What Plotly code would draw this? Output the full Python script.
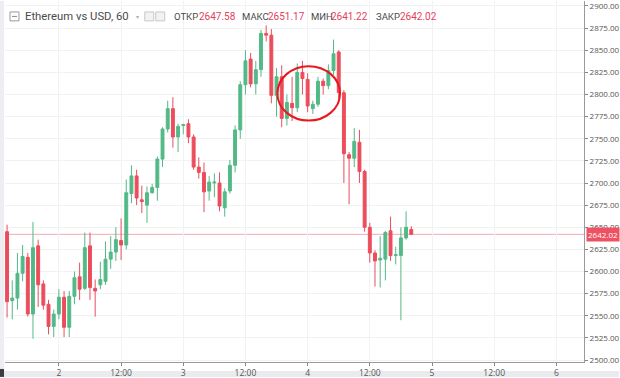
import pandas as pd
import plotly.graph_objects as go

# ---------------- data (hourly ETH/USD candles) ----------------
opens = [2645, 2567, 2570, 2598, 2616, 2552, 2629, 2586, 2563, 2538,
         2552, 2571, 2537, 2572, 2594, 2581, 2629, 2581, 2585, 2589,
         2614, 2622, 2635, 2630, 2688, 2708, 2681, 2675, 2689, 2695,
         2727, 2761, 2784, 2752, 2765, 2767, 2752, 2718, 2712, 2691,
         2700, 2700, 2672, 2691, 2720, 2760, 2811, 2840, 2812, 2828,
         2869, 2867, 2799, 2820, 2773, 2790, 2785, 2825, 2817, 2784,
         2789, 2815, 2810, 2827, 2848, 2802, 2732, 2728, 2746, 2713,
         2650, 2621, 2613, 2614, 2646, 2618, 2618, 2638, 2647.58]
highs = [2653, 2590, 2621, 2630, 2621, 2656, 2636, 2590, 2568, 2557,
         2580, 2578, 2578, 2600, 2610, 2644, 2644, 2591, 2611, 2634,
         2640, 2650, 2660, 2704, 2720, 2715, 2697, 2696, 2699, 2730,
         2763, 2793, 2797, 2767, 2767, 2772, 2755, 2729, 2723, 2708,
         2711, 2712, 2694, 2726, 2765, 2815, 2850, 2847, 2838, 2873,
         2878, 2874, 2830, 2833, 2800, 2820, 2835, 2838, 2824, 2793,
         2820, 2818, 2834, 2862, 2850, 2805, 2735, 2762, 2760, 2715,
         2655, 2624, 2640, 2646, 2662, 2628, 2650, 2668, 2651.17]
lows = [2548, 2546, 2557, 2589, 2549, 2524, 2560, 2557, 2529, 2526,
        2546, 2526, 2526, 2563, 2568, 2579, 2568, 2549, 2580, 2585,
        2603, 2612, 2613, 2625, 2677, 2675, 2666, 2655, 2688, 2680,
        2718, 2757, 2740, 2735, 2755, 2745, 2715, 2705, 2667, 2680,
        2684, 2668, 2662, 2688, 2712, 2750, 2800, 2808, 2800, 2820,
        2860, 2790, 2775, 2763, 2765, 2770, 2780, 2800, 2780, 2778,
        2786, 2800, 2806, 2822, 2790, 2700, 2676, 2718, 2700, 2645,
        2610, 2583, 2582, 2590, 2612, 2608, 2545, 2636, 2641.22]
closes = [2566, 2570, 2598, 2617, 2552, 2627, 2585, 2562, 2538, 2552,
          2571, 2537, 2572, 2593, 2580, 2627, 2582, 2578, 2591, 2614,
          2622, 2636, 2630, 2689, 2708, 2683, 2679, 2689, 2695, 2727,
          2761, 2784, 2752, 2764, 2766, 2752, 2718, 2712, 2690, 2701,
          2701, 2674, 2690, 2720, 2760, 2811, 2838, 2812, 2828, 2869,
          2867, 2799, 2820, 2773, 2791, 2785, 2825, 2818, 2787, 2789,
          2815, 2810, 2827, 2846, 2802, 2733, 2728, 2747, 2713, 2650,
          2621, 2612, 2615, 2644, 2618, 2619, 2638, 2650, 2642.02]
times = pd.date_range("2021-06-01 14:00", periods=len(opens), freq="h")

x_tick_vals = ["2021-06-02 00:00", "2021-06-02 12:00", "2021-06-03 00:00",
               "2021-06-03 12:00", "2021-06-04 00:00", "2021-06-04 12:00",
               "2021-06-05 00:00", "2021-06-05 12:00", "2021-06-06 00:00"]
x_tick_text = ["2", "12:00", "3", "12:00", "4", "12:00", "5", "12:00", "6"]
y_tick_vals = [2500, 2525, 2550, 2575, 2600, 2625, 2650, 2675, 2700, 2725,
               2750, 2775, 2800, 2825, 2850, 2875, 2900]
y_tick_text = [f"{v:.2f}" for v in y_tick_vals]

title_text = "Ethereum vs USD, 60"
ohlc_labels = ["ОТКР", "МАКС", "МИН", "ЗАКР"]

# ---------------- styling ----------------
GREEN = "#53b987"
RED = "#eb4d5c"
GRID = "#f1f2f4"
TXT = "#555555"
HDR_FONT = "Roboto, Noto Sans, sans-serif"

W, H = 620, 378
ML, MR, MT, MB = 5, 35, 0, 15
PW, PH = W - ML - MR, H - MT - MB


def px(xp):
    return (xp - ML) / PW


def py(yp):
    return 1 - (yp - MT) / PH


fig = go.Figure()
fig.add_trace(go.Candlestick(
    x=times, open=opens, high=highs, low=lows, close=closes,
    increasing=dict(line=dict(color=GREEN, width=1), fillcolor=GREEN),
    decreasing=dict(line=dict(color=RED, width=1), fillcolor=RED),
    whiskerwidth=0, showlegend=False, hoverinfo="skip",
))

last_close = closes[-1]
fig.add_hline(y=last_close, line=dict(color="#f4a9b1", width=1), layer="below")

# red circle highlight
fig.add_shape(type="circle", xref="x", yref="y",
              x0="2021-06-03 18:10", x1="2021-06-04 06:15",
              y0=2770.5, y1=2832.0,
              line=dict(color="#e8181f", width=2))

# frame strips
fig.add_shape(type="rect", xref="paper", yref="paper",
              x0=px(0), x1=px(4), y0=py(378), y1=py(0),
              fillcolor="#eceef2", line=dict(width=0), layer="below")
fig.add_shape(type="rect", xref="paper", yref="paper",
              x0=px(0), x1=px(620), y0=py(378), y1=py(372),
              fillcolor="#e9ebef", line=dict(width=0), layer="below")
fig.add_shape(type="rect", xref="paper", yref="paper",
              x0=px(0), x1=px(4), y0=py(378), y1=py(370),
              fillcolor="#3a3d44", line=dict(width=0))

# header icons
fig.add_shape(type="rect", xref="paper", yref="paper",
              x0=px(10), x1=px(19), y0=py(20), y1=py(11),
              line=dict(color="#9a9a9a", width=1), fillcolor="white")
fig.add_shape(type="line", xref="paper", yref="paper",
              x0=px(12), x1=px(17), y0=py(15.5), y1=py(15.5),
              line=dict(color="#8a8a8a", width=1))
for xa in (145, 156):
    fig.add_shape(type="rect", xref="paper", yref="paper",
                  x0=px(xa), x1=px(xa + 9), y0=py(20), y1=py(11),
                  line=dict(color="#c8c8c8", width=1), fillcolor="#f2f2f2")

annots = [
    dict(x=px(23), y=py(15.5), text=title_text,
         font=dict(family=HDR_FONT, size=11.3, color="#4a4a4a")),
    dict(x=px(134), y=py(16), text="▾",
         font=dict(size=6, color="#b0b0b0")),
]
ohlc_vals = [opens[-1], highs[-1], lows[-1], closes[-1]]
lab_x = [172, 240, 310, 375]
val_x = [197, 266, 330, 399]
for lab, lx, v, vx in zip(ohlc_labels, lab_x, ohlc_vals, val_x):
    annots.append(dict(x=px(lx), y=py(15.5), text=lab,
                       font=dict(family=HDR_FONT, size=9.5, color="#4a4a4a")))
    annots.append(dict(x=px(vx), y=py(15.5), text=f"{v:.2f}",
                       font=dict(family=HDR_FONT, size=10, color="#e5405c")))
for a in annots:
    a.update(xref="paper", yref="paper", xanchor="left", yanchor="middle",
             showarrow=False)
    fig.add_annotation(**a)

# last price label on the axis
fig.add_annotation(x=px(587), y=last_close, yref="y", xref="paper",
                   text=f"{last_close:.2f}", xanchor="left", yanchor="middle",
                   showarrow=False, font=dict(size=8, color="white"),
                   bgcolor="#ee5162", borderpad=1)

fig.update_layout(
    width=W, height=H,
    margin=dict(l=ML, r=MR, t=MT, b=MB, pad=0),
    paper_bgcolor="white", plot_bgcolor="white",
    font=dict(family="Open Sans, Arial, sans-serif", color=TXT),
    boxgap=0.2,
    xaxis=dict(
        range=["2021-06-01 13:36", "2021-06-06 05:20"],
        rangeslider=dict(visible=False),
        tickvals=x_tick_vals, ticktext=x_tick_text,
        showgrid=True, gridcolor=GRID, gridwidth=1,
        ticks="outside", ticklen=3, tickcolor="#888",
        showline=True, linecolor="#9a9a9a", linewidth=1,
        tickfont=dict(size=8.5, color=TXT), zeroline=False,
    ),
    yaxis=dict(
        side="right", range=[2497.8, 2905.6],
        tickvals=y_tick_vals, ticktext=y_tick_text,
        showgrid=True, gridcolor=GRID, gridwidth=1,
        ticks="outside", ticklen=3, tickcolor="#888",
        showline=True, linecolor="#9a9a9a", linewidth=1,
        tickfont=dict(size=8, color=TXT), zeroline=False,
        ticklabeloverflow="allow",
    ),
)

fig.write_html("out.html")
